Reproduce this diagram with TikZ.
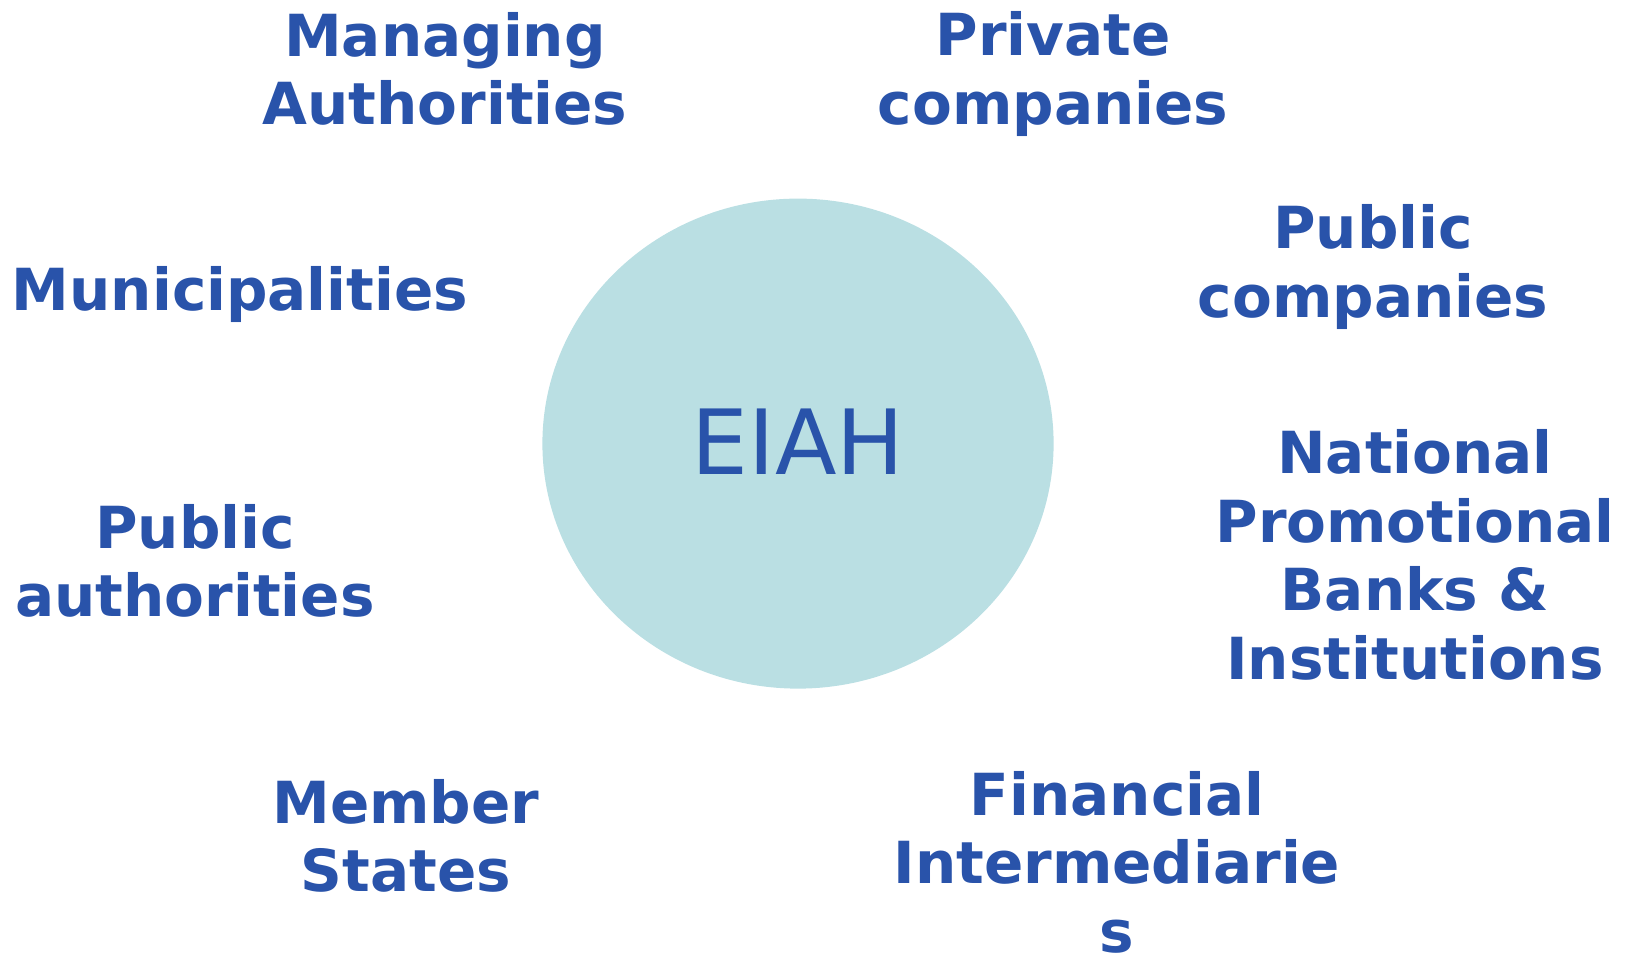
\documentclass[tikz,border=0pt]{standalone}
\usepackage{fontspec}
\setmainfont{DejaVu Sans}
\usepackage{tikz}
\definecolor{eiahblue}{HTML}{2953AA}
\definecolor{eiahteal}{HTML}{BADFE3}
\tikzset{
  partner/.style={text=eiahblue,align=center,inner sep=0pt,
    font=\fontsize{16.5}{19.5}\selectfont\bfseries},
}
\begin{document}
\begin{tikzpicture}
\useasboundingbox (0,0) rectangle (16.29,9.60);
\fill[eiahteal] (7.98,5.164) ellipse (2.556 and 2.45);
\node[text=eiahblue,inner sep=0pt,font=\fontsize{25.6}{30}\selectfont] (eiah) at (7.98,5.18) {EIAH};
\node[partner] (managing) at (4.45,8.91) {Managing\\Authorities};
\node[partner] (private) at (10.53,8.86) {Private\\companies};
\node[partner] (municip) at (2.40,6.66) {Municipalities};
\node[partner] (pubcomp) at (13.73,6.93) {Public\\companies};
\node[partner] (npbi) at (14.15,4.05) {National\\Promotional\\Banks \&\\Institutions};
\node[partner] (pubauth) at (1.95,3.99) {Public\\authorities};
\node[partner] (members) at (4.06,1.24) {Member\\States};
\node[partner] (financial) at (11.17,0.98) {Financial\\Intermediarie\\s};
\end{tikzpicture}
\end{document}
